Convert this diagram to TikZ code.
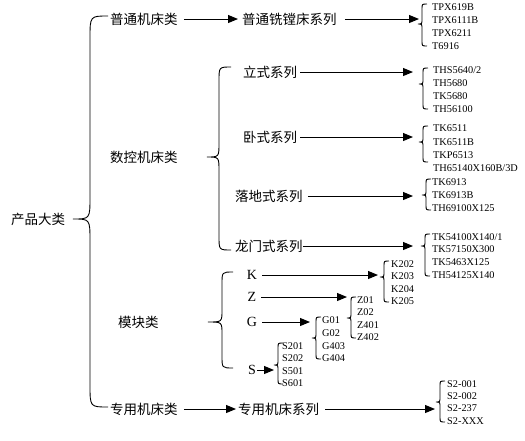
\documentclass[tikz,border=0pt]{standalone}
\usepackage{fontspec}
\setmainfont{Liberation Serif}
\newfontfamily\cjk{Noto Sans CJK SC}
\usetikzlibrary{arrows.meta}
\tikzset{
  zh/.style={font=\cjk\fontsize{13.5}{14}\selectfont, inner sep=0pt, anchor=west},
  li/.style={font=\fontsize{10.3}{10}\selectfont, inner sep=0pt, anchor=west},
  lett/.style={font=\fontsize{14}{14}\selectfont, inner sep=0pt},
  arr/.style={-{Triangle[length=10pt,width=8pt]}, line width=1pt},
  br/.style={line width=0.9pt},
}
\newcommand\mybrace[7]{\draw[br] ({#1+#5},#2) .. controls (#1,#2) .. (#1,{#2+#7}) -- (#1,{#3-#7}) .. controls (#1,#3) .. ({#1-#6},#3) .. controls (#1,#3) .. (#1,{#3+#7}) -- (#1,{#4-#7}) .. controls (#1,#4) .. ({#1+#5},#4);}
\begin{document}
\begin{tikzpicture}[x=1pt,y=-1pt]
\fill[white] (0,0) rectangle (525,440);
\useasboundingbox (0,0) rectangle (525,440);
% main texts
\node[zh,anchor=center] (root) at (38,219) {产品大类};
\node[zh] (pt) at (110,19) {普通机床类};
\node[zh] (sk) at (110,157) {数控机床类};
\node[zh] (mk) at (118,322) {模块类};
\node[zh] (zy) at (110,409) {专用机床类};
\node[zh] (ptx) at (242,19) {普通铣镗床系列};
\node[zh] (ls) at (243,72) {立式系列};
\node[zh] (ws) at (243,137) {卧式系列};
\node[zh] (ld) at (235,196) {落地式系列};
\node[zh] (lm) at (235,246) {龙门式系列};
\node[zh] (zyx) at (238,409) {专用机床系列};
\node[lett] (K) at (252,275) {K};
\node[lett] (Z) at (252,297) {Z};
\node[lett] (G) at (252,322) {G};
\node[lett] (S) at (252,370) {S};
% braces
\mybrace{90}{16}{219}{407}{18}{17}{22}
\mybrace{219}{67}{157}{250}{12}{12}{14}
\mybrace{222}{272}{322}{368}{11}{14}{12}
% lists
\node[li] (a1) at (432,7) {TPX619B};
\node[li] (a2) at (432,20) {TPX6111B};
\node[li] (a3) at (432,33) {TPX6211};
\node[li] (a4) at (432,46) {T6916};
\mybrace{422}{4}{24}{46}{5}{4}{5}
\coordinate (e1) at (419,21);
\node[li] (b1) at (433,70) {THS5640/2};
\node[li] (b2) at (433,83) {TH5680};
\node[li] (b3) at (433,96) {TK5680};
\node[li] (b4) at (433,109) {TH56100};
\mybrace{423}{68}{84}{109}{5}{4}{5}
\coordinate (e2) at (413,73);
\node[li] (c1) at (433,128) {TK6511};
\node[li] (c2) at (433,142) {TK6511B};
\node[li] (c3) at (433,155) {TKP6513};
\node[li] (c4) at (433,168) {TH65140X160B/3D};
\mybrace{423}{126}{142}{162}{5}{4}{5}
\coordinate (e3) at (413,138);
\node[li] (d1) at (432,182) {TK6913};
\node[li] (d2) at (432,195) {TK6913B};
\node[li] (d3) at (432,208) {TH69100X125};
\mybrace{426}{179}{195}{210}{5}{4}{5}
\coordinate (e4) at (413,195);
\node[li] (f1) at (432,237) {TK54100X140/1};
\node[li] (f2) at (432,249) {TK57150X300};
\node[li] (f3) at (432,262) {TK5463X125};
\node[li] (f4) at (432,275) {TH54125X140};
\mybrace{425}{234}{246}{276}{5}{4}{5}
\coordinate (e5) at (413,246);
\node[li] (k1) at (391,264) {K202};
\node[li] (k2) at (391,276) {K203};
\node[li] (k3) at (391,289) {K204};
\node[li] (k4) at (391,301) {K205};
\mybrace{384}{261}{277}{302}{5}{4}{5}
\coordinate (ek) at (378,275);
\node[li] (z1) at (357,300) {Z01};
\node[li] (z2) at (357,312) {Z02};
\node[li] (z3) at (357,325) {Z401};
\node[li] (z4) at (357,337) {Z402};
\mybrace{351}{297}{318}{338}{5}{4}{5}
\coordinate (ez) at (347,297);
\node[li] (g1) at (322,320) {G01};
\node[li] (g2) at (322,333) {G02};
\node[li] (g3) at (322,346) {G403};
\node[li] (g4) at (322,358) {G404};
\mybrace{316}{317}{338}{359}{5}{4}{5}
\coordinate (eg) at (310,322);
\node[li] (s1) at (282,346) {S201};
\node[li] (s2) at (282,358) {S202};
\node[li] (s3) at (282,371) {S501};
\node[li] (s4) at (282,383) {S601};
\mybrace{278}{343}{365}{384}{5}{4}{5}
\coordinate (es) at (274,370);
\node[li] (t1) at (447,384) {S2-001};
\node[li] (t2) at (447,396) {S2-002};
\node[li] (t3) at (447,408) {S2-237};
\node[li] (t4) at (447,421) {S2-XXX};
\mybrace{440}{381}{402}{422}{5}{4}{5}
\coordinate (et) at (435,409);
% arrows
\draw[arr] ([xshift=6pt]pt.east) -- ([xshift=-4pt]ptx.west);
\draw[arr] ([xshift=8pt]ptx.east) -- (ptx.east -| e1);
\draw[arr] ([xshift=3pt]ls.east) -- (ls.east -| e2);
\draw[arr] ([xshift=3pt]ws.east) -- (ws.east -| e3);
\draw[arr] ([xshift=5pt]ld.east) -- (ld.east -| e4);
\draw[arr] (lm.east) -- (lm.east -| e5);
\draw[arr] ([xshift=5pt]K.east) -- (K.east -| ek);
\draw[arr] ([xshift=5pt]Z.east) -- (Z.east -| ez);
\draw[arr] ([xshift=5pt]G.east) -- (G.east -| eg);
\draw[arr] ([xshift=1pt]S.east) -- (S.east -| es);
\draw[arr] ([xshift=6pt]zy.east) -- ([xshift=-2pt]zyx.west);
\draw[arr] ([xshift=6pt]zyx.east) -- (zyx.east -| et);
\end{tikzpicture}
\end{document}
